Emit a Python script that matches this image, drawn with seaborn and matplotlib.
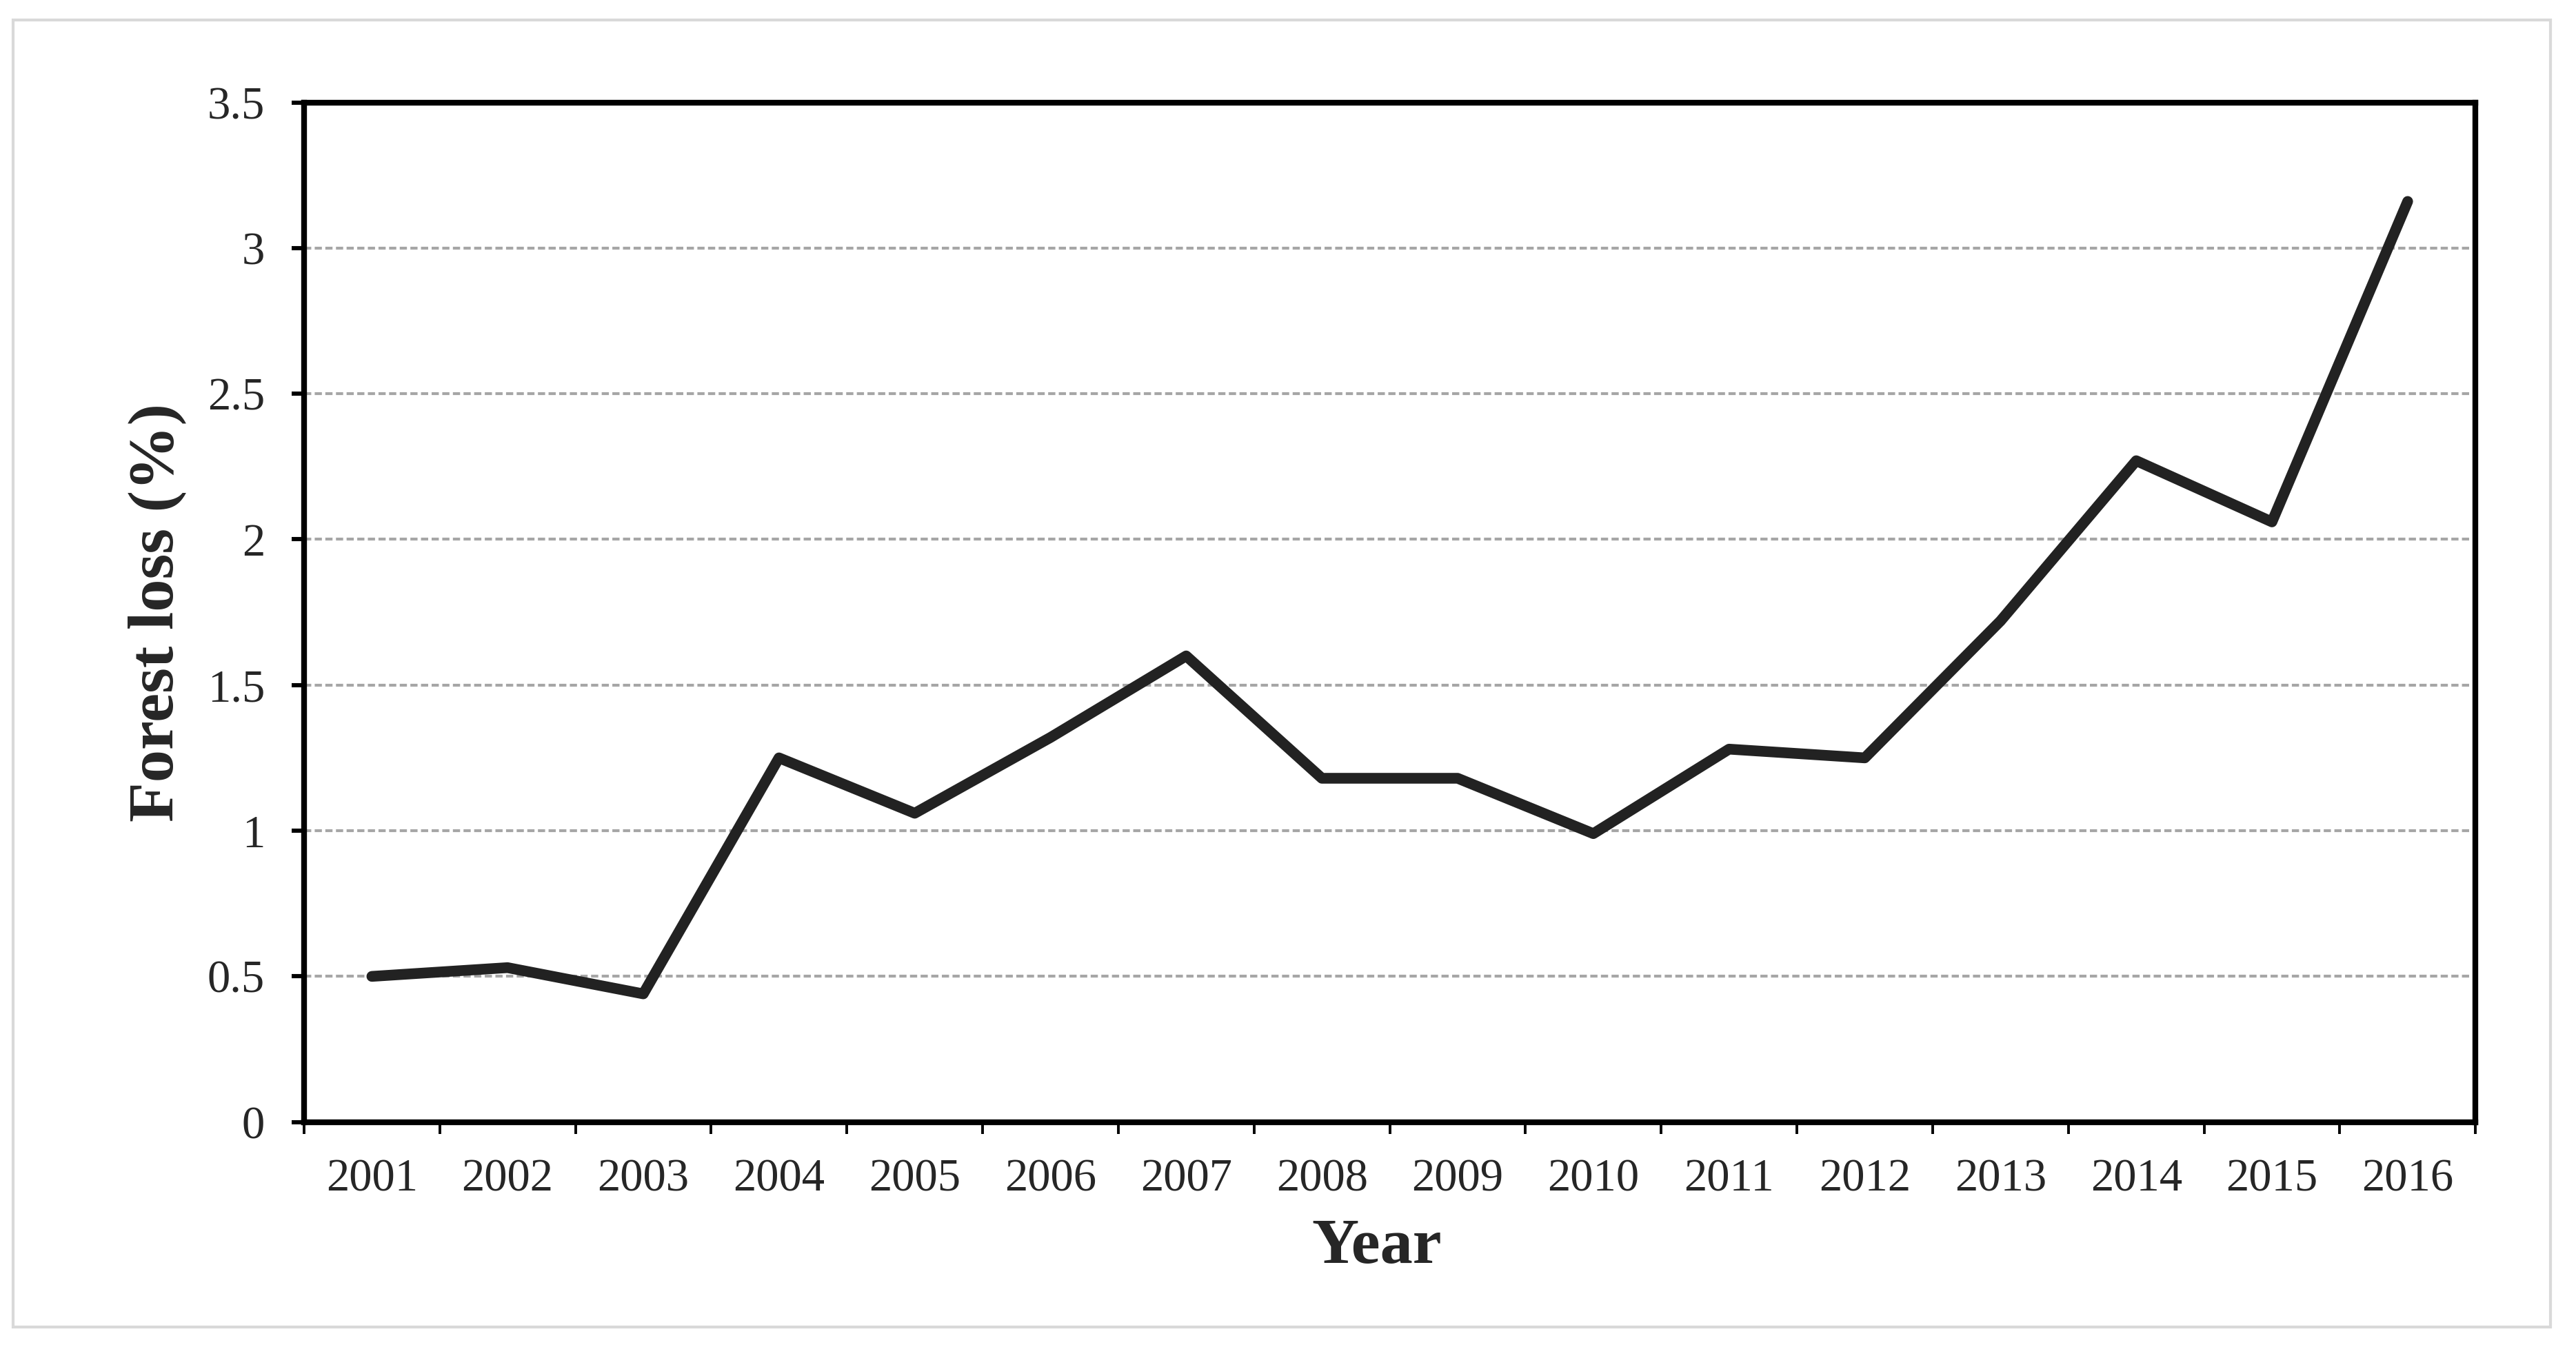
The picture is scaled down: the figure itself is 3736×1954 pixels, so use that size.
import matplotlib
matplotlib.use("Agg")
import matplotlib.pyplot as plt
from matplotlib.patches import Rectangle
import numpy as np
import pandas as pd
import seaborn as sns

# data
years = [2001, 2002, 2003, 2004, 2005, 2006, 2007, 2008,
         2009, 2010, 2011, 2012, 2013, 2014, 2015, 2016]
forest_loss = [0.50, 0.53, 0.44, 1.25, 1.06, 1.32, 1.60, 1.18,
               1.18, 0.99, 1.28, 1.25, 1.72, 2.27, 2.06, 3.16]
y_ticks = [0, 0.5, 1, 1.5, 2, 2.5, 3, 3.5]
y_tick_labels = ["0", "0.5", "1", "1.5", "2", "2.5", "3", "3.5"]

sns.set_style("white")
plt.rcParams["font.family"] = ["Liberation Serif", "DejaVu Serif"]

df = pd.DataFrame({"Year": years, "loss": forest_loss})

fig = plt.figure(figsize=(18.68, 9.77), dpi=200)
ax = fig.add_axes([0.118, 0.167, 0.843, 0.757])

# horizontal dashed grid
for yv in y_ticks[1:-1]:
    ax.axhline(yv, color="#a6a6a6", lw=1.5, ls=(0, (2.5, 1.2)), zorder=1)

sns.lineplot(data=df, x="Year", y="loss", ax=ax, color="#222222",
             lw=5.6, zorder=3)
ax.lines[-1].set_solid_capstyle("round")
ax.lines[-1].set_solid_joinstyle("round")

ax.set_xlim(years[0] - 0.5, years[-1] + 0.5)
ax.set_ylim(0, 3.5)

# year boundaries as major ticks, labels on minor ticks at centres
ax.set_xticks(np.arange(years[0] - 0.5, years[-1] + 1, 1.0))
ax.set_xticklabels([])
ax.set_xticks(years, minor=True)
ax.set_xticklabels([str(y) for y in years], minor=True)
ax.tick_params(axis="x", which="major", direction="out", length=6.2,
               width=1.4, color="black", bottom=True)
ax.tick_params(axis="x", which="minor", length=0, pad=19, labelsize=24)

ax.set_yticks(y_ticks)
ax.set_yticklabels(y_tick_labels)
ax.tick_params(axis="y", direction="out", length=6.4, width=2.2,
               color="black", left=True, pad=14, labelsize=24)

for sp in ax.spines.values():
    sp.set_linewidth(3.0)
    sp.set_color("black")

ax.set_xlabel("Year", fontsize=34, fontweight="bold", labelpad=12)
ax.xaxis.set_label_coords(0.494, -0.094)
ax.set_ylabel("Forest loss (%)", fontsize=34, fontweight="bold", labelpad=11)

# light grey frame around the whole figure
fig.patches.append(Rectangle((0.005, 0.015), 0.985, 0.97, transform=fig.transFigure,
                             fill=False, edgecolor="#d9d9d9", lw=1.5))

fig.savefig("out.png", dpi=200, facecolor="white")
